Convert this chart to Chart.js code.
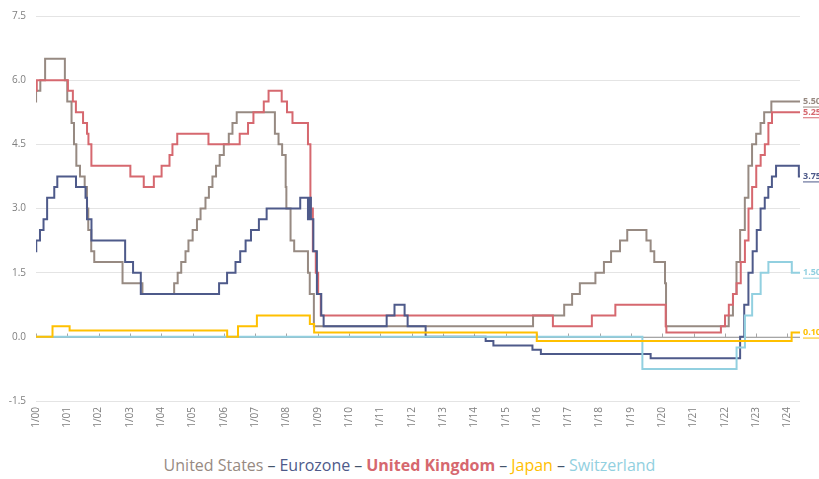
<!DOCTYPE html>
<html>
<head>
<meta charset="utf-8">
<script src="https://cdn.jsdelivr.net/npm/chart.js@4.4.1/dist/chart.umd.min.js"></script>
<style>
  html, body { margin: 0; padding: 0; background: #fff; }
  #wrap { position: relative; width: 819px; height: 479px; overflow: hidden; }
  #box { position: absolute; left: 0; top: 0; width: 819px; height: 440px; }
  #legend { position: absolute; left: 0; top: 454px; width: 819px; text-align: center;
            font-family: "Open Sans", sans-serif; font-size: 16px; line-height: 22px; white-space: nowrap; }
  #legend .dash { color: #44546a; margin: 0 4px; }
</style>
</head>
<body>
<div id="wrap">
  <div id="box"><canvas id="chart"></canvas></div>
  <div id="legend">
    <span style="color:#978a82">United States</span><span class="dash">–</span><span style="color:#4e5a8a">Eurozone</span><span class="dash">–</span><span style="color:#d6686f;font-weight:bold">United Kingdom</span><span class="dash">–</span><span style="color:#ffc000">Japan</span><span class="dash">–</span><span style="color:#92d0e0">Switzerland</span>
  </div>
</div>
<script>
// policy rates, dates where the step shows on the chart
const END = 2024.4;
const yearTicks = [2000, 2001, 2002, 2003, 2004, 2005, 2006, 2007, 2008, 2009, 2010, 2011, 2012,
                   2013, 2014, 2015, 2016, 2017, 2018, 2019, 2020, 2021, 2022, 2023, 2024];
const yTicks = [-1.5, 0, 1.5, 3, 4.5, 6, 7.5];

const usDates = ['2000-01-01','2000-01-02','2000-02-21','2000-04-16','2000-12-03','2000-12-31','2001-02-20','2001-03-18',
  '2001-04-15','2001-05-27','2001-07-21','2001-08-17','2001-09-02','2001-10-06','2001-11-11','2002-10-06','2003-05-25',
  '2004-05-30','2004-07-10','2004-08-21','2004-10-10','2004-11-14','2005-01-02','2005-02-22','2005-04-03','2005-05-30',
  '2005-07-09','2005-08-20','2005-10-01','2005-11-13','2005-12-31','2006-02-28','2006-04-10','2006-05-29','2007-08-18',
  '2007-09-30','2007-11-11','2007-12-22','2007-12-30','2008-02-18','2008-03-30','2008-09-08','2008-09-29','2008-11-16',
  '2015-11-16','2016-11-14','2017-02-15','2017-05-14','2017-11-13','2018-02-21','2018-05-13','2018-08-26','2018-11-19',
  '2019-06-30','2019-08-18','2019-09-30','2020-02-03','2020-02-15','2022-02-16','2022-04-04','2022-05-15','2022-06-27',
  '2022-08-21','2022-10-02','2022-11-14','2023-01-01','2023-02-22','2023-04-03','2023-06-26'];
const usRates = [5.5, 5.75, 6, 6.5, 6, 5.5, 5, 4.5,
  4, 3.75, 3.5, 3, 2.5, 2, 1.75, 1.25, 1,
  1.25, 1.5, 1.75, 2, 2.25, 2.5, 2.75, 3, 3.25,
  3.5, 3.75, 4, 4.25, 4.5, 4.75, 5, 5.25, 4.75,
  4.5, 4.25, 3.5, 3, 2.25, 2, 1.5, 1, 0.25,
  0.5, 0.75, 1, 1.25, 1.5, 1.75, 2, 2.25, 2.5,
  2.25, 2, 1.75, 1.25, 0.25, 0.5, 1, 1.75, 2.5,
  3.25, 4, 4.5, 4.75, 5, 5.25, 5.5];

const ezDates = ['2000-01-01','2000-01-04','2000-02-17','2000-03-28','2000-05-09','2000-08-01','2000-09-06','2001-04-11',
  '2001-07-31','2001-08-18','2001-10-09','2002-11-06','2003-02-07','2003-05-06','2005-11-06','2006-02-08','2006-05-15',
  '2006-07-09','2006-09-11','2006-11-13','2007-02-14','2007-05-13','2008-06-09','2008-09-08','2008-09-25','2008-10-12',
  '2008-11-10','2008-12-21','2009-02-11','2009-03-08','2011-03-13','2011-06-13','2011-10-09','2011-11-14','2012-06-11',
  '2014-05-11','2014-08-10','2015-11-09','2016-02-16','2019-08-18','2022-06-27','2022-08-14','2022-10-02','2022-11-21',
  '2023-01-08','2023-02-22','2023-04-10','2023-05-21','2023-07-02','2023-08-20','2024-05-12'];
const ezRates = [2, 2.25, 2.5, 2.75, 3.25, 3.5, 3.75, 3.5,
  3.25, 2.75, 2.25, 1.75, 1.5, 1, 1.25, 1.5, 1.75,
  2, 2.25, 2.5, 2.75, 3, 3.25, 2.75, 3.25, 2.75,
  2, 1, 0.5, 0.25, 0.5, 0.75, 0.5, 0.25, 0,
  -0.1, -0.2, -0.3, -0.4, -0.5, 0, 0.75, 1.5, 2,
  2.5, 3, 3.25, 3.5, 3.75, 4, 3.75];

const ukDates = ['2000-01-01','2000-01-10','2001-01-08','2001-03-05','2001-04-10','2001-07-02','2001-08-18','2001-09-04',
  '2001-10-08','2003-01-06','2003-06-10','2003-10-06','2004-01-05','2004-04-06','2004-05-10','2004-07-05','2005-07-04',
  '2006-07-03','2006-10-09','2006-12-11','2007-04-10','2007-06-05','2007-11-06','2008-01-07','2008-03-10','2008-09-08',
  '2008-10-06','2008-11-04','2008-12-08','2009-01-05','2009-02-05','2016-07-04','2017-10-02','2018-07-02','2020-02-11',
  '2020-02-19','2021-11-16','2022-01-03','2022-02-17','2022-04-05','2022-05-16','2022-07-04','2022-08-22','2022-10-03',
  '2022-11-15','2023-01-02','2023-02-23','2023-04-11','2023-05-22','2023-07-03'];
const ukRates = [5.75, 6, 5.75, 5.5, 5.25, 5, 4.75, 4.5,
  4, 3.75, 3.5, 3.75, 4, 4.25, 4.5, 4.75, 4.5,
  4.75, 5, 5.25, 5.5, 5.75, 5.5, 5.25, 5, 4.5,
  3, 2, 1.5, 1, 0.5, 0.25, 0.5, 0.75, 0.25,
  0.1, 0.25, 0.5, 0.75, 1, 1.25, 1.75, 2.25, 3,
  3.5, 4, 4.25, 4.5, 5, 5.25];

const jpDates = ['2000-01-01','2000-07-11','2001-01-28','2006-02-09','2006-06-14','2007-01-21','2008-09-30','2008-11-19',
  '2015-12-29','2024-02-19'];
const jpRates = [0, 0.25, 0.15, 0, 0.25, 0.5, 0.3, 0.1, -0.1, 0.1];

const chDates = ['2000-01-01','2019-05-13','2022-05-16','2022-08-22','2022-11-15','2023-02-23','2023-05-22','2024-02-21'];
const chRates = [0, -0.75, -0.25, 0.5, 1, 1.5, 1.75, 1.5];

function yr(s) {
  const p = s.split('-').map(Number);
  return p[0] + (p[1] - 1 + (p[2] - 1) / 30.5) / 12;
}
function series(dates, rates) {
  const pts = dates.map((d, i) => ({ x: yr(d), y: rates[i] }));
  pts.push({ x: END, y: rates[rates.length - 1] });
  return pts;
}

const extras = {
  id: 'extras',
  beforeDatasetsDraw(chart) {
    const { ctx, chartArea, scales: { x, y } } = chart;
    const y0 = Math.round(y.getPixelForValue(0)) + 0.5;
    ctx.save();
    ctx.strokeStyle = '#a6a6a6';
    ctx.lineWidth = 1;
    ctx.beginPath();
    ctx.moveTo(chartArea.left, y0);
    ctx.lineTo(chartArea.right, y0);
    yearTicks.forEach(v => {
      const px = Math.round(x.getPixelForValue(v)) + 0.5;
      ctx.moveTo(px, y0);
      ctx.lineTo(px, y0 - 4);
    });
    ctx.stroke();
    ctx.restore();
  },
  afterDatasetsDraw(chart) {
    const ctx = chart.ctx;
    ctx.save();
    ctx.font = 'bold 9px "Open Sans", sans-serif';
    ctx.textBaseline = 'middle';
    chart.data.datasets.forEach((ds, i) => {
      const meta = chart.getDatasetMeta(i);
      const pt = meta.data[meta.data.length - 1];
      const txt = ds.data[ds.data.length - 1].y.toFixed(2);
      const w = ctx.measureText(txt).width;
      ctx.fillStyle = ds.borderColor;
      ctx.fillText(txt, 803, pt.y);
      ctx.fillRect(803, pt.y + 5, w, 1);
    });
    ctx.restore();
  }
};

new Chart(document.getElementById('chart'), {
  type: 'line',
  data: {
    datasets: [
      { label: 'United States', data: series(usDates, usRates), borderColor: '#978a82', order: 4 },
      { label: 'Eurozone', data: series(ezDates, ezRates), borderColor: '#4e5a8a', order: 2 },
      { label: 'United Kingdom', data: series(ukDates, ukRates), borderColor: '#d6686f', order: 3 },
      { label: 'Japan', data: series(jpDates, jpRates), borderColor: '#ffc000', order: 0 },
      { label: 'Switzerland', data: series(chDates, chRates), borderColor: '#92d0e0', order: 1 }
    ]
  },
  options: {
    responsive: true,
    maintainAspectRatio: false,
    animation: false,
    layout: { padding: { top: 11, right: 19, left: 0, bottom: 0 } },
    elements: {
      line: { stepped: true, borderWidth: 2, fill: false },
      point: { radius: 0, hoverRadius: 0 }
    },
    plugins: { legend: { display: false }, tooltip: { enabled: false } },
    scales: {
      x: {
        type: 'linear',
        min: 2000,
        max: END,
        afterFit: s => { s.height = 39; },
        afterBuildTicks: s => { s.ticks = yearTicks.map(v => ({ value: v })); },
        grid: { display: false, drawTicks: false },
        border: { display: false },
        ticks: {
          autoSkip: false,
          maxRotation: 90,
          minRotation: 90,
          padding: 6,
          color: '#7f7f7f',
          font: { family: '"Open Sans", sans-serif', size: 10 },
          callback: v => '1/' + String(Math.round(v) % 100).padStart(2, '0')
        }
      },
      y: {
        min: -1.5,
        max: 7.5,
        afterFit: s => { s.width = 36; },
        afterBuildTicks: s => { s.ticks = yTicks.map(v => ({ value: v })); },
        grid: { color: '#e4e4e4', drawTicks: false },
        border: { display: false },
        ticks: {
          padding: 10,
          color: '#7f7f7f',
          font: { family: '"Open Sans", sans-serif', size: 10 },
          callback: v => Number(v).toFixed(1)
        }
      }
    }
  },
  plugins: [extras]
});
</script>
</body>
</html>
